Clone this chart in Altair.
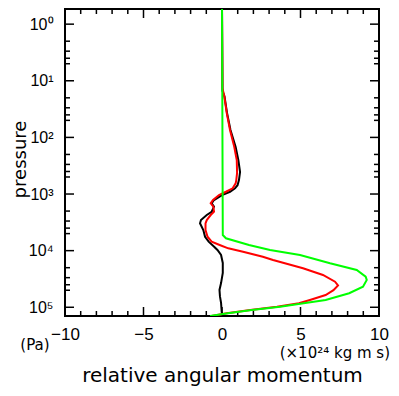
import altair as alt
import pandas as pd

# ---- data (pressure in Pa, relative angular momentum in 1e24 kg m s) ----
black_p = [0.5, 15, 19, 37, 74, 147, 251, 410, 567, 700, 794, 912, 1042, 1277, 1460, 1675,
           2054, 2350, 2880, 3290, 4320, 5680, 6950, 8520, 9750, 11900, 16500, 24800,
           37400, 49400, 64300, 83900, 119700, 142600]
black_m = [0.0, 0.03, 0.16, 0.32, 0.54, 0.87, 1.04, 1.15, 1.08, 0.99, 0.83, 0.51, 0.0, -0.51,
           -0.66, -0.51, -0.66, -0.97, -1.34, -1.40, -1.19, -1.08, -0.85, -0.5, -0.29, -0.06,
           0.05, 0.05, -0.06, -0.16, -0.13, -0.06, -0.02, 0.02]

red_p = [0.5, 13.5, 19, 37, 74, 147, 251, 426, 567, 648, 794, 912, 1042, 1277, 1460, 1675,
         2054, 2350, 2880, 3290, 4320, 5680, 6950, 7940, 9100, 10440, 12800, 14600, 20500,
         26900, 35300, 41000, 50000, 60700, 74300, 84700, 97600, 111600, 127600, 142600]
red_m = [0.0, 0.03, 0.15, 0.30, 0.51, 0.78, 0.94, 0.96, 0.91, 0.87, 0.68, 0.25, -0.19, -0.57,
         -0.72, -0.55, -0.51, -0.72, -0.97, -1.05, -1.05, -0.92, -0.66, -0.15, 0.4, 1.34, 2.6,
         3.25, 5.16, 6.43, 7.20, 7.39, 7.10, 6.6, 5.6, 4.9, 3.5, 1.8, 0.3, -0.66]

green_p = [0.5, 5300, 6050, 7940, 9750, 11900, 16700, 22000, 28800, 33000, 43300, 56600,
           74300, 84700, 97600, 111600, 127600, 142600]
green_m = [0.0, 0.05, 0.25, 1.72, 3.06, 4.97, 6.88, 8.58, 9.15, 9.22, 8.98, 8.1, 6.6, 5.2,
           3.7, 1.9, 0.38, -0.76]

y_major = [1, 10, 100, 1000, 10000, 100000]
y_major_labels = ["10⁰", "10¹", "10²", "10³", "10⁴", "10⁵"]
y_minor = [2, 3, 4, 5, 20, 30, 40, 50, 200, 300, 400, 500, 2000, 3000, 4000, 5000,
           20000, 30000, 40000, 50000]
x_major = [-10, -5, 0, 5, 10]
x_major_labels = ["−10", "−5", "0", "5", "10"]
x_minor = [-9, -8, -7, -6, -4, -3, -2, -1, 1, 2, 3, 4, 6, 7, 8, 9]

p_domain = [0.54, 142600]
m_domain = [-10, 10]

x_title = "relative angular momentum"
y_title = "pressure"
p_unit = "(Pa)"
m_unit = "(×10²⁴ kg m s)"

# ---- layout ----
W, H = 314, 307
MAJ, MIN = 9, 5


def js_list(vals):
    return "[" + ",".join(repr(v) if isinstance(v, str) else str(v) for v in vals) + "]"


xs = alt.Scale(domain=m_domain, nice=False, zero=False)
ys = alt.Scale(type="log", domain=p_domain, nice=False, reverse=True)

x_axis = alt.Axis(
    values=x_major,
    labelExpr=f"{js_list(x_major_labels)}[indexof({js_list(x_major)}, datum.value)]",
    ticks=False, tickSize=0, domain=False, grid=False,
    labelFont="Liberation Sans", labelFontSize=17, labelColor="black",
    labelPadding=10, labelFlush=False,
    title=x_title, titleFont="DejaVu Sans", titleFontSize=20, titleFontWeight="normal",
    titleColor="black", titleX=157, titleY=65, titleBaseline="alphabetic",
    titleAlign="center",
)
y_axis = alt.Axis(
    values=y_major,
    labelExpr=f"{js_list(y_major_labels)}[indexof({js_list(y_major)}, datum.value)]",
    ticks=False, tickSize=0, domain=False, grid=False,
    labelFont="Liberation Sans", labelFontSize=16, labelColor="black",
    labelPadding=12, labelFlush=False,
    title=y_title, titleFont="DejaVu Sans", titleFontSize=18, titleFontWeight="normal",
    titleColor="black", titleX=-40, titleY=150, titleAngle=270,
    titleBaseline="alphabetic", titleAlign="center",
)


def line_layer(p, m, color):
    df = pd.DataFrame({"p": p, "m": m})
    return alt.Chart(df).mark_line(color=color, strokeWidth=2, clip=True).encode(
        x=alt.X("m:Q", scale=xs, axis=x_axis),
        y=alt.Y("p:Q", scale=ys, axis=y_axis),
        order=alt.Order("p:Q"),
    )


def ytick_layer(vals, x0, x1):
    df = pd.DataFrame({"p": vals})
    return alt.Chart(df).mark_rule(color="black", strokeWidth=1.5).encode(
        y=alt.Y("p:Q", scale=ys, axis=y_axis),
        x=alt.value(x0), x2=alt.value(x1),
    )


def xtick_layer(vals, y0, y1):
    df = pd.DataFrame({"m": vals})
    return alt.Chart(df).mark_rule(color="black", strokeWidth=1.5).encode(
        x=alt.X("m:Q", scale=xs, axis=x_axis),
        y=alt.value(y0), y2=alt.value(y1),
    )


def text_layer(txt, x, y, align, size):
    df = pd.DataFrame({"t": [txt]})
    return alt.Chart(df).mark_text(
        font="DejaVu Sans", fontSize=size, align=align, baseline="alphabetic", color="black"
    ).encode(text="t:N", x=alt.value(x), y=alt.value(y))


layers = [
    ytick_layer(y_major, 0, MAJ),
    ytick_layer(y_minor, 0, MIN),
    ytick_layer(y_major, W - MAJ, W),
    ytick_layer(y_minor, W - MIN, W),
    xtick_layer(x_major, H, H - MAJ),
    xtick_layer(x_minor, H, H - MIN),
    xtick_layer(x_major, 0, MAJ),
    xtick_layer(x_minor, 0, MIN),
    line_layer(black_p, black_m, "#000000"),
    line_layer(red_p, red_m, "#ff0000"),
    line_layer(green_p, green_m, "#00ff00"),
    text_layer(p_unit, -30, 341, "center", 15),
    text_layer(m_unit, 325, 349, "right", 15),
]

chart = alt.layer(*layers).properties(
    width=W, height=H,
    autosize=alt.AutoSizeParams(type="none"),
    padding={"left": 57, "top": 1, "right": 12, "bottom": 71},
    background="white",
).configure_view(stroke="black", strokeWidth=2)

chart.save("out.html", embed_options={"renderer": "svg", "actions": False})
